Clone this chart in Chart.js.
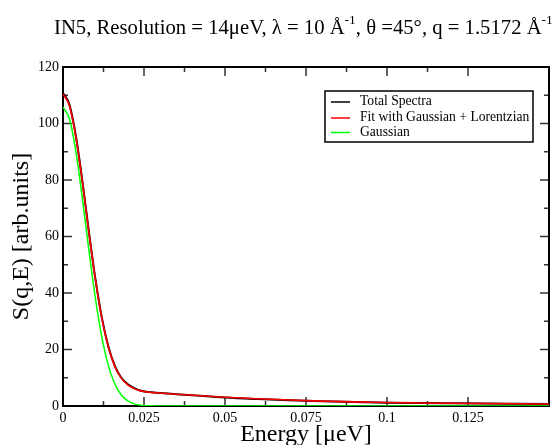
<!DOCTYPE html>
<html>
<head>
<meta charset="utf-8">
<script src="https://cdn.jsdelivr.net/npm/chart.js@4/dist/chart.umd.min.js"></script>
<style>
  html, body { margin: 0; padding: 0; background: #fff; overflow: hidden; }
  #wrap { position: relative; width: 554px; height: 445px; overflow: hidden; }
  canvas { position: absolute; left: 0; top: 0; }
  #title {
    position: absolute; left: 54px; top: 17px;
    font: 20.7px "Liberation Serif", "Times New Roman", serif;
    line-height: 20px; white-space: nowrap; color: #000;
  }
  #title sup { font-size: 13.5px; line-height: 0; vertical-align: 10px; }
</style>
</head>
<body>
<div id="wrap">
  <canvas id="c" width="554" height="445"></canvas>
  <div id="title">IN5, Resolution = 14μeV, λ = 10 Å<sup>-1</sup>, θ =45°, q = 1.5172 Å<sup>-1</sup></div>
</div>
<script>
// Energy transfer grid (μeV axis as labelled)
const energy = [0, 0.002, 0.004, 0.006, 0.008, 0.010, 0.012, 0.014, 0.016, 0.018,
                0.020, 0.022, 0.024, 0.026, 0.028, 0.030, 0.035, 0.040, 0.050, 0.060,
                0.070, 0.080, 0.090, 0.100, 0.110, 0.120, 0.130, 0.140, 0.150];

// Measured total spectrum S(q,E)
const totalSpectra = [110.8, 106.6, 95.4, 79.4, 61.6, 45.0, 31.2, 21.1, 14.2, 10.0,
                      7.7, 6.3, 5.4, 5.0, 4.8, 4.6, 4.2, 3.8, 3.0, 2.45,
                      2.0, 1.65, 1.38, 1.18, 1.05, 0.95, 0.86, 0.78, 0.70];

// Gaussian + Lorentzian fit
const fitGaussLorentz = [110.4, 106.3, 95.1, 79.2, 61.4, 44.8, 31.0, 20.9, 14.0, 9.86,
                         7.49, 6.15, 5.35, 4.95, 4.75, 4.58, 4.18, 3.82, 3.12, 2.56,
                         2.10, 1.74, 1.46, 1.24, 1.08, 0.96, 0.86, 0.78, 0.72];

// Gaussian component
const gaussian = [105.8, 101.6, 89.9, 73.3, 55.1, 38.1, 24.3, 14.3, 7.77, 3.88,
                  1.79, 0.76, 0.30, 0.11, 0.04, 0.01, 0, 0, 0, 0,
                  0, 0, 0, 0, 0, 0, 0, 0, 0];

const seriesLabels = ['Total Spectra', 'Fit with Gaussian + Lorentzian', 'Gaussian'];
const xTickLabels = ['0', '0.025', '0.05', '0.075', '0.1', '0.125'];
const yTickLabels = ['0', '20', '40', '60', '80', '100', '120'];

const serif = '"Liberation Serif", "Times New Roman", serif';
const pts = ys => energy.map((e, i) => ({ x: e, y: ys[i] }));

// Frame with inward major/minor ticks on all four sides
const framePlugin = {
  id: 'frame',
  beforeDatasetsDraw(chart) {
    const { ctx, chartArea: a, scales: { x, y } } = chart;
    ctx.save();
    ctx.strokeStyle = '#333';
    ctx.lineWidth = 1.5;
    const majMin = (scale) => {
      const maj = scale.ticks.map(t => scale.getPixelForValue(t.value));
      const min = [];
      for (let i = 0; i < maj.length - 1; i++) min.push((maj[i] + maj[i + 1]) / 2);
      return { maj, min };
    };
    const xs = majMin(x), ys = majMin(y);
    ctx.beginPath();
    xs.maj.forEach(p => { ctx.moveTo(p, a.bottom); ctx.lineTo(p, a.bottom - 9); ctx.moveTo(p, a.top); ctx.lineTo(p, a.top + 9); });
    xs.min.forEach(p => { ctx.moveTo(p, a.bottom); ctx.lineTo(p, a.bottom - 5); ctx.moveTo(p, a.top); ctx.lineTo(p, a.top + 5); });
    ys.maj.forEach(p => { ctx.moveTo(a.left, p); ctx.lineTo(a.left + 9, p); ctx.moveTo(a.right, p); ctx.lineTo(a.right - 9, p); });
    ys.min.forEach(p => { ctx.moveTo(a.left, p); ctx.lineTo(a.left + 5, p); ctx.moveTo(a.right, p); ctx.lineTo(a.right - 5, p); });
    ctx.stroke();
    ctx.strokeStyle = '#000';
    ctx.lineWidth = 2;
    ctx.strokeRect(a.left, a.top, a.right - a.left, a.bottom - a.top);
    ctx.restore();
  }
};

// Boxed legend inside the plot area
const legendPlugin = {
  id: 'boxLegend',
  afterDraw(chart) {
    const { ctx } = chart;
    const bx = 325, by = 91, bw = 208, bh = 51;
    const rows = [101.5, 117.5, 132];
    ctx.save();
    ctx.fillStyle = '#fff';
    ctx.fillRect(bx, by, bw, bh);
    ctx.strokeStyle = '#000';
    ctx.lineWidth = 1.5;
    ctx.strokeRect(bx, by, bw, bh);
    ctx.font = '13.6px ' + serif;
    ctx.textBaseline = 'middle';
    chart.data.datasets.forEach((ds, i) => {
      ctx.strokeStyle = ds.borderColor;
      ctx.lineWidth = 1.5;
      ctx.beginPath();
      ctx.moveTo(331, rows[i] + 0.5);
      ctx.lineTo(350, rows[i] + 0.5);
      ctx.stroke();
      ctx.fillStyle = '#000';
      ctx.fillText(ds.label, 360, rows[i]);
    });
    ctx.restore();
  }
};

new Chart(document.getElementById('c'), {
  type: 'line',
  data: {
    datasets: [
      { label: seriesLabels[0], data: pts(totalSpectra), borderColor: '#000000', borderWidth: 2, order: 2 },
      { label: seriesLabels[1], data: pts(fitGaussLorentz), borderColor: '#ff0000', borderWidth: 1.6, order: 1 },
      { label: seriesLabels[2], data: pts(gaussian), borderColor: '#00ff00', borderWidth: 1.5, order: 0 }
    ]
  },
  options: {
    responsive: false,
    animation: false,
    layout: { padding: { top: 67, right: 5, left: 0, bottom: 0 } },
    elements: {
      point: { radius: 0 },
      line: { cubicInterpolationMode: 'monotone', fill: false }
    },
    plugins: { legend: { display: false }, title: { display: false }, tooltip: { enabled: false } },
    scales: {
      x: {
        type: 'linear', min: 0, max: 0.15,
        grid: { display: false, drawTicks: false },
        border: { display: false },
        ticks: {
          stepSize: 0.025, autoSkip: false, maxRotation: 0, padding: 4, color: '#000',
          font: { family: serif, size: 14 },
          callback: (v, i) => (xTickLabels[i] !== undefined ? xTickLabels[i] : null)
        },
        title: {
          display: true, text: 'Energy [μeV]', color: '#000',
          font: { family: serif, size: 24, lineHeight: 0.85 }, padding: { top: 0, bottom: 0 }
        },
        afterFit: s => { s.height = 39; }
      },
      y: {
        min: 0, max: 120,
        grid: { display: false, drawTicks: false },
        border: { display: false },
        ticks: {
          stepSize: 20, padding: 4, color: '#000',
          font: { family: serif, size: 14 },
          callback: (v, i) => (yTickLabels[i] !== undefined ? yTickLabels[i] : null)
        },
        title: {
          display: true, text: 'S(q,E) [arb.units]', color: '#000',
          font: { family: serif, size: 24, lineHeight: 1 }, padding: { top: 10, bottom: 0 }
        },
        afterFit: s => { s.width = 63; }
      }
    }
  },
  plugins: [framePlugin, legendPlugin]
});
</script>
</body>
</html>
